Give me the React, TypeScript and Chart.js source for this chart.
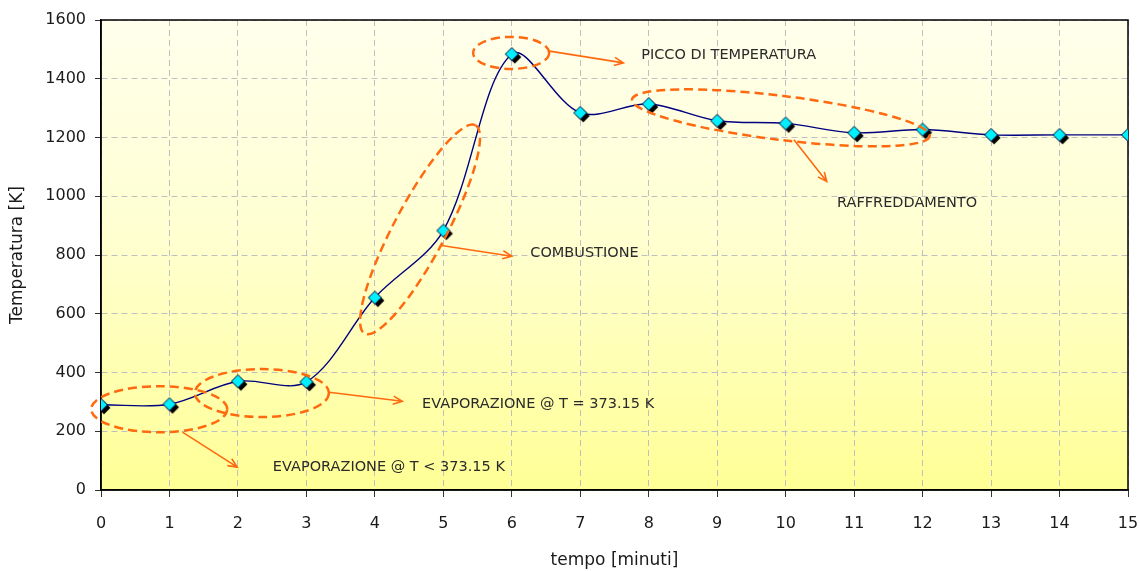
import React, { useEffect, useRef } from "react";
import { Chart, registerables } from "chart.js";

Chart.register(...registerables);

// ---- data ----
const minutes = [0, 1, 2, 3, 4, 5, 6, 7, 8, 9, 10, 11, 12, 13, 14, 15];
const temperatures = [290, 292, 370, 368, 655, 883, 1484, 1284, 1314, 1257, 1248, 1216, 1227, 1209, 1209, 1209];
const yTicks = [0, 200, 400, 600, 800, 1000, 1200, 1400, 1600];

const xTitle = "tempo [minuti]";
const yTitle = "Temperatura [K]";

// annotation ellipses: centre in data units, radii in px, rotation in degrees
const ellipseCx = [0.85, 2.35, 4.66, 5.99, 9.93];
const ellipseCy = [275, 330, 887, 1488, 1267];
const ellipseRx = [68, 67, 118, 38, 150];
const ellipseRy = [23, 24, 26, 16, 22];
const ellipseRot = [0, 0, -62, 0, 7];

// arrows: from/to in data units
const arrowX0 = [1.19, 3.33, 4.95, 6.55, 10.12];
const arrowY0 = [197, 333, 833, 1494, 1192];
const arrowX1 = [1.99, 4.4, 6.0, 7.63, 10.6];
const arrowY1 = [78, 302, 796, 1454, 1050];

// annotation texts: left/middle anchor in data units
const noteTexts = [
  "EVAPORAZIONE @ T < 373.15 K",
  "EVAPORAZIONE @ T = 373.15 K",
  "COMBUSTIONE",
  "PICCO DI TEMPERATURA",
  "RAFFREDDAMENTO",
];
const noteX = [2.51, 4.69, 6.27, 7.89, 10.75];
const noteY = [78, 292, 805, 1481, 975];

const FONT = "'DejaVu Sans', 'Noto Sans', sans-serif";
const ORANGE = "#FF6A10";

function makeMarker(): HTMLCanvasElement {
  const c = document.createElement("canvas");
  const s = 26;
  c.width = s;
  c.height = s;
  const g = c.getContext("2d")!;
  const r = 6.5;
  const cx = s / 2;
  const cy = s / 2;
  const diamond = (x: number, y: number) => {
    g.beginPath();
    g.moveTo(x, y - r);
    g.lineTo(x + r, y);
    g.lineTo(x, y + r);
    g.lineTo(x - r, y);
    g.closePath();
  };
  diamond(cx + 3, cy + 3);
  g.fillStyle = "#000000";
  g.fill();
  diamond(cx, cy);
  g.fillStyle = "#00F0FF";
  g.fill();
  g.lineWidth = 1;
  g.strokeStyle = "#0a0a30";
  g.stroke();
  return c;
}

const decorPlugin = {
  id: "decor",
  beforeDraw(chart: any) {
    const { ctx, chartArea: a } = chart;
    ctx.save();
    const grad = ctx.createLinearGradient(0, a.top, 0, a.bottom);
    grad.addColorStop(0, "#FFFFEC");
    grad.addColorStop(0.45, "#FFFFD2");
    grad.addColorStop(1, "#FFFF96");
    ctx.fillStyle = grad;
    ctx.fillRect(a.left, a.top, a.right - a.left, a.bottom - a.top);
    ctx.restore();
  },
  beforeDatasetsDraw(chart: any) {
    const { ctx, chartArea: a } = chart;
    ctx.save();
    ctx.strokeStyle = "#000000";
    ctx.lineWidth = 1.5;
    ctx.strokeRect(a.left, a.top, a.right - a.left, a.bottom - a.top);
    ctx.restore();
  },
  afterDatasetsDraw(chart: any) {
    const { ctx } = chart;
    const xs = chart.scales.x;
    const ys = chart.scales.y;
    ctx.save();
    // ellipses
    ctx.strokeStyle = ORANGE;
    ctx.lineWidth = 2.5;
    ctx.setLineDash([9, 5]);
    for (let i = 0; i < ellipseCx.length; i++) {
      ctx.beginPath();
      ctx.ellipse(
        xs.getPixelForValue(ellipseCx[i]),
        ys.getPixelForValue(ellipseCy[i]),
        ellipseRx[i],
        ellipseRy[i],
        (ellipseRot[i] * Math.PI) / 180,
        0,
        Math.PI * 2
      );
      ctx.stroke();
    }
    // arrows
    ctx.setLineDash([]);
    ctx.lineWidth = 1.6;
    for (let i = 0; i < arrowX0.length; i++) {
      const x0 = xs.getPixelForValue(arrowX0[i]);
      const y0 = ys.getPixelForValue(arrowY0[i]);
      const x1 = xs.getPixelForValue(arrowX1[i]);
      const y1 = ys.getPixelForValue(arrowY1[i]);
      ctx.beginPath();
      ctx.moveTo(x0, y0);
      ctx.lineTo(x1, y1);
      const ang = Math.atan2(y1 - y0, x1 - x0);
      const L = 10;
      const w = 0.42;
      ctx.moveTo(x1 - L * Math.cos(ang - w), y1 - L * Math.sin(ang - w));
      ctx.lineTo(x1, y1);
      ctx.lineTo(x1 - L * Math.cos(ang + w), y1 - L * Math.sin(ang + w));
      ctx.stroke();
    }
    // texts
    ctx.fillStyle = "#2a2a2a";
    ctx.font = `14.5px ${FONT}`;
    ctx.textAlign = "left";
    ctx.textBaseline = "middle";
    for (let i = 0; i < noteTexts.length; i++) {
      ctx.fillText(noteTexts[i], xs.getPixelForValue(noteX[i]), ys.getPixelForValue(noteY[i]));
    }
    ctx.restore();
  },
};

export default function App() {
  const ref = useRef<HTMLCanvasElement | null>(null);
  useEffect(() => {
    if (!ref.current) return;
    const marker = makeMarker();
    const chart = new Chart(ref.current, {
      type: "line",
      data: {
        datasets: [
          {
            data: minutes.map((m, i) => ({ x: m, y: temperatures[i] })),
            borderColor: "#000080",
            borderWidth: 1.4,
            tension: 0.33,
            pointStyle: marker as any,
            pointRadius: 7,
            fill: false,
          },
        ],
      },
      options: {
        animation: false,
        responsive: false,
        maintainAspectRatio: false,
        layout: { padding: { left: 0, top: 20, right: 12, bottom: 0 } },
        plugins: { legend: { display: false }, tooltip: { enabled: false } },
        scales: {
          x: {
            type: "linear",
            min: 0,
            max: 15,
            afterFit: (s: any) => {
              s.height = 81;
              s.paddingLeft = 0;
              s.paddingRight = 0;
            },
            ticks: {
              stepSize: 1,
              color: "#1a1a1a",
              font: { family: FONT, size: 16 },
              padding: 17,
              maxRotation: 0,
            },
            grid: {
              color: "#C0C0C0",
              lineWidth: 1,
              tickLength: 7,
              tickColor: "#333333",
            },
            border: { display: true, color: "#000000", width: 1.5, dash: [6, 4] as any },
            title: {
              display: true,
              text: xTitle,
              color: "#1a1a1a",
              font: { family: FONT, size: 17 },
              padding: { top: 0, bottom: 0 },
            },
          },
          y: {
            min: 0,
            max: 1600,
            afterFit: (s: any) => {
              s.width = 101;
              s.paddingTop = 0;
              s.paddingBottom = 0;
            },
            afterBuildTicks: (s: any) => {
              s.ticks = yTicks.map((v) => ({ value: v }));
            },
            ticks: {
              color: "#1a1a1a",
              font: { family: FONT, size: 16 },
              padding: 9,
              callback: (v: any) => String(v),
            },
            grid: {
              color: "#C0C0C0",
              lineWidth: 1,
              tickLength: 6,
              tickColor: "#333333",
            },
            border: { display: true, color: "#000000", width: 1.5, dash: [6, 4] as any },
            title: {
              display: true,
              text: yTitle,
              color: "#1a1a1a",
              font: { family: FONT, size: 17 },
              padding: { top: 7, bottom: 0 },
            },
          },
        },
      },
      plugins: [decorPlugin],
    });
    return () => chart.destroy();
  }, []);
  return (
    <div style={{ position: "absolute", left: 0, top: 0, width: 1140, height: 571, background: "#fff" }}>
      <canvas ref={ref} width={1140} height={571} style={{ display: "block" }} />
    </div>
  );
}
